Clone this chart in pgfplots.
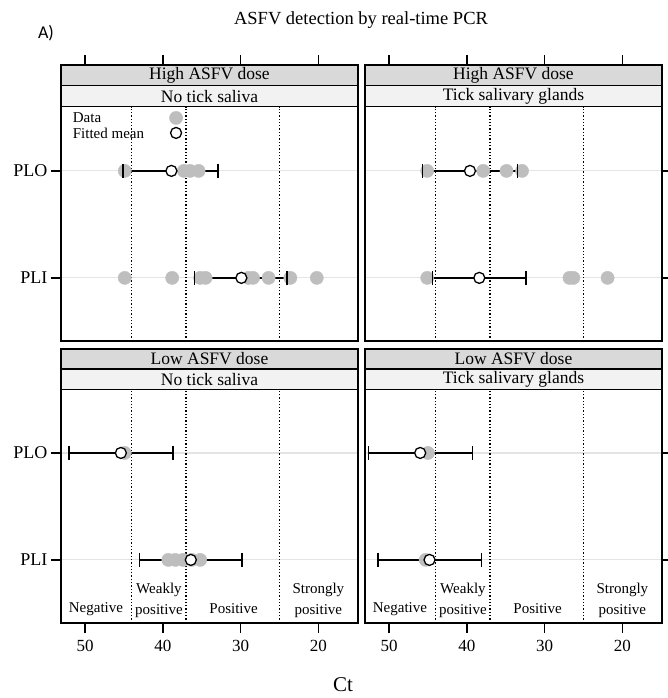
\documentclass[border=0pt]{standalone}
\usepackage{pgfplots}
\pgfplotsset{compat=1.18}
\usepackage{fontspec}
\setmainfont{Liberation Serif}
\newfontfamily\sansA{Carlito}
\definecolor{dotgray}{RGB}{190,190,190}
\definecolor{stripA}{RGB}{217,217,217}
\definecolor{stripB}{RGB}{242,242,242}
\definecolor{gridgray}{RGB}{228,228,228}
\pgfplotsset{
  panel/.style={
    scale only axis, width=297pt,
    x dir=reverse, xmin=14.9, xmax=53.1,
    xtick={20,30,40,50}, ytick={1,2},
    tick align=outside, major tick length=10pt,
    axis line style={line width=1.3pt},
    xtick style={draw=black, line width=1.5pt},
    ytick style={draw=black, line width=1.5pt},
    ymajorgrids, grid style={gridgray, line width=1.2pt},
    clip=false,
    /pgf/number format/assume math mode=true,
    tick label style={font=\fontsize{17}{20}\selectfont},
    xticklabel style={yshift=-4pt},
    yticklabel style={font=\fontsize{18}{20}\selectfont},
  },
  toppanel/.style={panel, height=276pt, ymin=0.41, ymax=2.99, xtick pos=right, xticklabels={,,,,}},
  botpanel/.style={panel, height=274pt, ymin=0.41, ymax=2.972, xtick pos=left},
  leftpanel/.style={ytick pos=left, yticklabels={PLI,PLO}},
  rightpanel/.style={ytick pos=right, yticklabels={,,}},
  dots/.style={only marks, mark=*, mark size=6.6pt, color=dotgray, mark options={draw=none, fill=dotgray}},
  ebar/.style={black, line width=1.3pt, mark=|, mark size=7pt, mark options={solid, line width=1.5pt}},
  fmean/.style={only marks, mark=*, mark size=5.5pt, mark options={fill=white, draw=black, line width=1.3pt}},
  vdot/.style={black, line width=1.4pt, dash pattern=on 1.3pt off 2pt},
}
\newcommand{\strips}[7]{%
  \draw[line width=1.3pt, fill=stripA] (axis cs:53.1,#1) rectangle (axis cs:14.9,#2);
  \draw[line width=1.3pt, fill=stripB] (axis cs:53.1,#3) rectangle (axis cs:14.9,#1);
  \node[font=\fontsize{17.5}{20}\selectfont] at (axis cs:34,#4) {#6};
  \node[font=\fontsize{17.5}{20}\selectfont] at (axis cs:34,#5) {#7};
}
\newcommand{\vlines}[1]{%
  \addplot[vdot] coordinates {(44,0.41) (44,#1)};
  \addplot[vdot] coordinates {(37,0.41) (37,#1)};
  \addplot[vdot] coordinates {(25,0.41) (25,#1)};
}
\newcommand{\regionlabels}{%
  \node[font=\fontsize{15}{21}\selectfont] at (axis cs:48.6,0.54) {Negative};
  \node[font=\fontsize{15}{21}\selectfont, align=center] at (axis cs:40.5,0.625) {Weakly\\positive};
  \node[font=\fontsize{15}{21}\selectfont] at (axis cs:30.9,0.54) {Positive};
  \node[font=\fontsize{15}{21}\selectfont, align=center] at (axis cs:20.0,0.625) {Strongly\\positive};
}
\begin{document}
\begin{tikzpicture}
\useasboundingbox (0,0) rectangle (668pt,698pt);
\node[font=\fontsize{18.5}{22}\selectfont] at (361pt,678pt) {ASFV detection by real-time PCR};
\node[font=\sansA\fontsize{18}{22}\selectfont] at (46pt,665pt) {A)};
\node[font=\fontsize{21}{25}\selectfont] at (343pt,13pt) {Ct};

% ---------- top left ----------
\begin{axis}[toppanel, leftpanel, at={(61pt,357pt)}, anchor=south west]
\vlines{2.601}
\addplot[dots] coordinates {(44.9,2) (37.3,2) (36.5,2) (35.4,2)};
\addplot[dots] coordinates {(44.9,1) (38.8,1) (35.2,1) (34.5,1) (29.0,1) (28.4,1) (26.4,1) (23.6,1) (20.2,1)};
\addplot[ebar] coordinates {(45.1,2) (32.9,2)};
\addplot[ebar] coordinates {(35.9,1) (24.0,1)};
\addplot[fmean] coordinates {(38.9,2) (29.9,1)};
% legend
\addplot[dots] coordinates {(38.3,2.495)};
\addplot[fmean] coordinates {(38.3,2.355)};
\node[anchor=west, font=\fontsize{15}{18}\selectfont, inner sep=0pt] at (axis cs:51.6,2.495) {Data};
\node[anchor=west, font=\fontsize{15}{18}\selectfont, inner sep=0pt] at (axis cs:51.6,2.355) {Fitted mean};
\strips{2.797}{2.99}{2.601}{2.8935}{2.699}{High ASFV dose}{No tick saliva}
\end{axis}

% ---------- top right ----------
\begin{axis}[toppanel, rightpanel, at={(365pt,357pt)}, anchor=south west]
\vlines{2.601}
\addplot[dots] coordinates {(45.1,2) (37.9,2) (34.9,2) (32.9,2)};
\addplot[dots] coordinates {(45.1,1) (26.8,1) (26.3,1) (21.9,1)};
\addplot[ebar] coordinates {(45.7,2) (33.5,2)};
\addplot[ebar] coordinates {(44.4,1) (32.4,1)};
\addplot[fmean] coordinates {(39.6,2) (38.4,1)};
\strips{2.797}{2.99}{2.601}{2.8935}{2.699}{High ASFV dose}{Tick salivary glands}
\end{axis}

% ---------- bottom left ----------
\begin{axis}[botpanel, leftpanel, at={(61pt,75pt)}, anchor=south west]
\vlines{2.595}
\addplot[dots] coordinates {(44.9,2)};
\addplot[dots] coordinates {(39.3,1) (38.4,1) (37.4,1) (36.3,1) (35.2,1)};
\addplot[ebar] coordinates {(52.1,2) (38.7,2)};
\addplot[ebar] coordinates {(43.0,1) (29.8,1)};
\addplot[fmean] coordinates {(45.4,2) (36.4,1)};
\regionlabels
\strips{2.785}{2.972}{2.595}{2.8785}{2.69}{Low ASFV dose}{No tick saliva}
\end{axis}

% ---------- bottom right ----------
\begin{axis}[botpanel, rightpanel, at={(365pt,75pt)}, anchor=south west]
\vlines{2.595}
\addplot[dots] coordinates {(45.0,2)};
\addplot[dots] coordinates {(45.3,1)};
\addplot[ebar] coordinates {(52.65,2) (39.3,2)};
\addplot[ebar] coordinates {(51.4,1) (38.1,1)};
\addplot[fmean] coordinates {(46.0,2) (44.8,1)};
\regionlabels
\strips{2.785}{2.972}{2.595}{2.8785}{2.69}{Low ASFV dose}{Tick salivary glands}
\end{axis}
\end{tikzpicture}
\end{document}
